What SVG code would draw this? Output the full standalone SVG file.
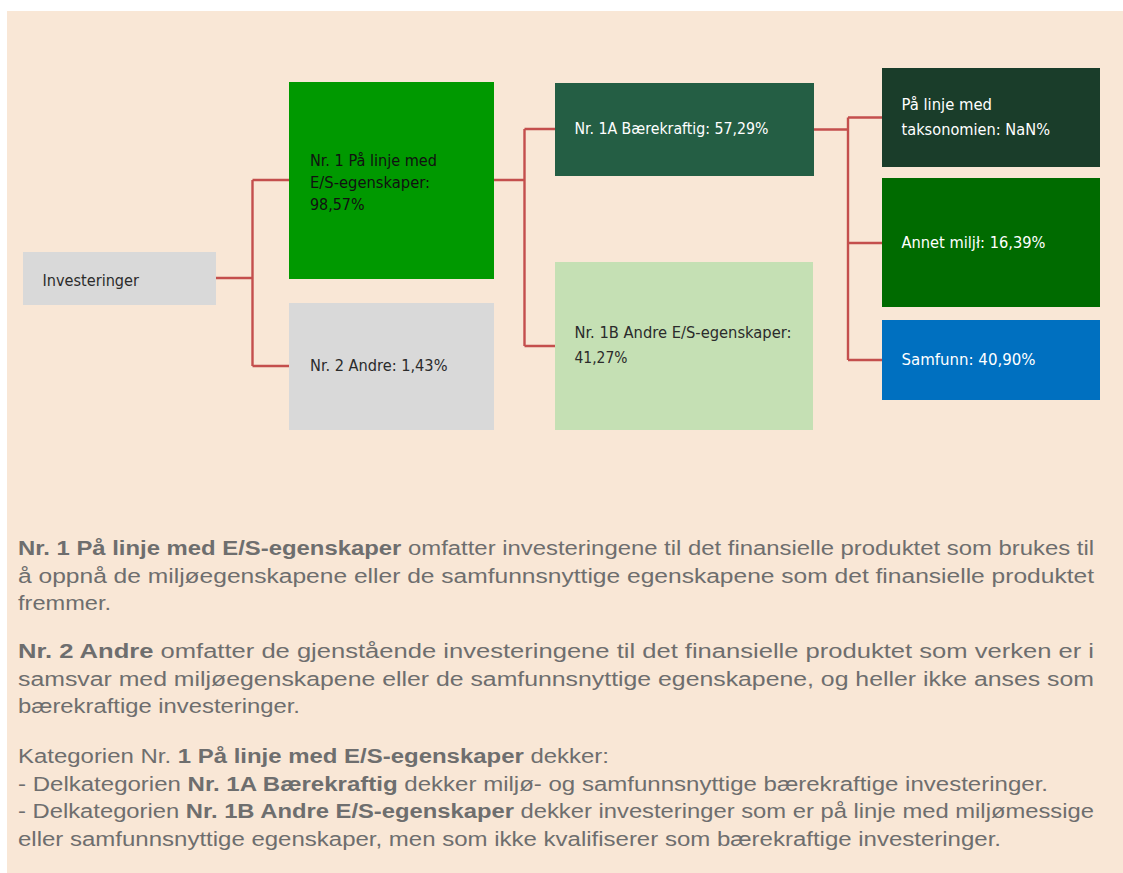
<svg xmlns="http://www.w3.org/2000/svg" width="1123" height="873" viewBox="0 0 1123 873">
<style>
.box text{font-family:"DejaVu Sans Condensed","DejaVu Sans",sans-serif;font-stretch:condensed;font-size:15.5px}
.dk{fill:#2b2b2b}
.wt{fill:#ffffff}
.conn{fill:none;stroke:#c44f4d;stroke-width:2.4}
.para{font-family:"Liberation Sans",Arial,sans-serif;font-size:20px;fill:#6e6e6e}
.b{font-weight:bold}
</style>
<rect x="0" y="0" width="1123" height="873" fill="#ffffff"/>
<rect x="7" y="11" width="1116" height="862" fill="#f9e7d6"/>

<g id="connectors">
  <path class="conn" d="M216,278 H252.5 M252.5,180 V366 M252.5,180 H289 M252.5,366 H289"/>
  <path class="conn" d="M494,180 H524.5 M524.5,129 V346 M524.5,129 H555 M524.5,346 H555"/>
  <path class="conn" d="M813,129.5 H848 M848,117.5 V360 M848,117.5 H882 M848,243 H882 M848,360 H882"/>
</g>

<g id="investeringer" class="box">
  <rect x="23" y="252" width="193" height="53" fill="#d9d9d9"/>
  <text class="dk" x="42.5" y="286" textLength="96.5" lengthAdjust="spacingAndGlyphs">Investeringer</text>
</g>
<g id="nr1" class="box">
  <rect x="289" y="82" width="205" height="197" fill="#009900"/>
  <text fill="#111" x="310" y="166" textLength="127" lengthAdjust="spacingAndGlyphs">Nr. 1 På linje med</text>
  <text fill="#111" x="310" y="188" textLength="120" lengthAdjust="spacingAndGlyphs">E/S-egenskaper:</text>
  <text fill="#111" x="310" y="210" textLength="54.5" lengthAdjust="spacingAndGlyphs">98,57%</text>
</g>
<g id="nr2" class="box">
  <rect x="289" y="303" width="205" height="127" fill="#d9d9d9"/>
  <text class="dk" x="310" y="371" textLength="137.5" lengthAdjust="spacingAndGlyphs">Nr. 2 Andre: 1,43%</text>
</g>
<g id="nr1a" class="box">
  <rect x="555" y="83" width="259" height="93" fill="#245e44"/>
  <text class="wt" x="574.5" y="134" textLength="194" lengthAdjust="spacingAndGlyphs">Nr. 1A Bærekraftig: 57,29%</text>
</g>
<g id="nr1b" class="box">
  <rect x="555" y="262" width="258" height="168" fill="#c5e0b4"/>
  <text class="dk" x="574.5" y="338" textLength="217" lengthAdjust="spacingAndGlyphs">Nr. 1B Andre E/S-egenskaper:</text>
  <text class="dk" x="574.5" y="362.5" textLength="53" lengthAdjust="spacingAndGlyphs">41,27%</text>
</g>
<g id="taksonomi" class="box">
  <rect x="882" y="68" width="218" height="99" fill="#1a3d2a"/>
  <text class="wt" x="901.5" y="110" textLength="90.5" lengthAdjust="spacingAndGlyphs">På linje med</text>
  <text class="wt" x="901.5" y="135" textLength="148.5" lengthAdjust="spacingAndGlyphs">taksonomien: NaN%</text>
</g>
<g id="annet" class="box">
  <rect x="882" y="178" width="218" height="129" fill="#006b00"/>
  <text class="wt" x="901.5" y="248" textLength="144" lengthAdjust="spacingAndGlyphs">Annet miljł: 16,39%</text>
</g>
<g id="samfunn" class="box">
  <rect x="882" y="320" width="218" height="80" fill="#0070c0"/>
  <text class="wt" x="901.5" y="365" textLength="134" lengthAdjust="spacingAndGlyphs">Samfunn: 40,90%</text>
</g>

<g id="description" class="para">
  <text x="18" y="555" textLength="1076" lengthAdjust="spacingAndGlyphs"><tspan class="b">Nr. 1 På linje med E/S-egenskaper</tspan> omfatter investeringene til det finansielle produktet som brukes til</text>
  <text x="18" y="582.5" textLength="1076" lengthAdjust="spacingAndGlyphs">å oppnå de miljøegenskapene eller de samfunnsnyttige egenskapene som det finansielle produktet</text>
  <text x="18" y="610" textLength="93" lengthAdjust="spacingAndGlyphs">fremmer.</text>

  <text x="18" y="658" textLength="1076" lengthAdjust="spacingAndGlyphs"><tspan class="b">Nr. 2 Andre</tspan> omfatter de gjenstående investeringene til det finansielle produktet som verken er i</text>
  <text x="18" y="685.5" textLength="1076" lengthAdjust="spacingAndGlyphs">samsvar med miljøegenskapene eller de samfunnsnyttige egenskapene, og heller ikke anses som</text>
  <text x="18" y="713" textLength="282" lengthAdjust="spacingAndGlyphs">bærekraftige investeringer.</text>

  <text x="18" y="763" textLength="591" lengthAdjust="spacingAndGlyphs">Kategorien Nr. <tspan class="b">1 På linje med E/S-egenskaper</tspan> dekker:</text>
  <text x="18" y="790.5" textLength="1030" lengthAdjust="spacingAndGlyphs">- Delkategorien <tspan class="b">Nr. 1A Bærekraftig</tspan> dekker miljø- og samfunnsnyttige bærekraftige investeringer.</text>
  <text x="18" y="818" textLength="1076" lengthAdjust="spacingAndGlyphs">- Delkategorien <tspan class="b">Nr. 1B Andre E/S-egenskaper</tspan> dekker investeringer som er på linje med miljømessige</text>
  <text x="18" y="845.5" textLength="983" lengthAdjust="spacingAndGlyphs">eller samfunnsnyttige egenskaper, men som ikke kvalifiserer som bærekraftige investeringer.</text>
</g>
</svg>
